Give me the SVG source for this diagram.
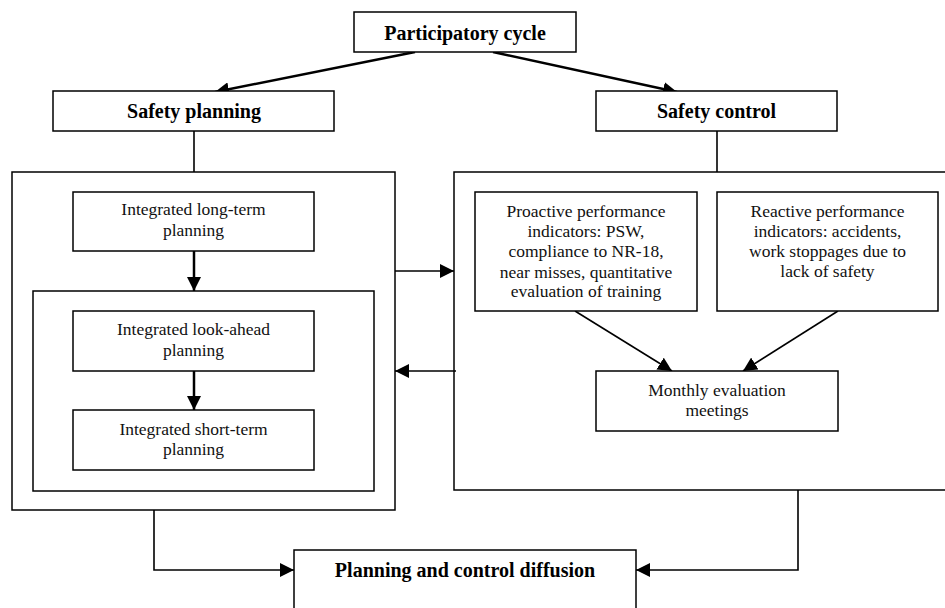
<svg xmlns="http://www.w3.org/2000/svg" width="945" height="608" viewBox="0 0 945 608">
<style>
rect.box{fill:#fff;stroke:#000;stroke-width:1.5}
.t{font-family:"Liberation Serif","Times New Roman",serif;font-size:17.5px;text-anchor:middle;fill:#111}
.b{font-family:"Liberation Serif","Times New Roman",serif;font-size:20px;font-weight:bold;text-anchor:middle;fill:#000}
.c{fill:none;stroke:#000;stroke-width:1.6}
.cb{fill:none;stroke:#000;stroke-width:2.5}
</style>
<defs>
<marker id="ah" markerUnits="userSpaceOnUse" markerWidth="16" markerHeight="14" refX="14" refY="7" orient="auto">
<path d="M0,0 L14,7 L0,14 Z" fill="#000"/>
</marker>
</defs>
<rect width="945" height="608" fill="#fff"/>
<g id="connectors">
<line class="cb" x1="415" y1="52" x2="215" y2="92" marker-end="url(#ah)"/>
<line class="cb" x1="493" y1="52" x2="677" y2="92" marker-end="url(#ah)"/>
<line class="c" x1="194" y1="131" x2="194" y2="172"/>
<line class="c" x1="717" y1="131" x2="717" y2="172"/>
<line class="cb" x1="194" y1="251" x2="194" y2="291" marker-end="url(#ah)"/>
<line class="cb" x1="194" y1="371" x2="194" y2="410" marker-end="url(#ah)"/>
<line class="c" x1="395" y1="271" x2="454" y2="271" marker-end="url(#ah)"/>
<line class="c" x1="456" y1="371" x2="395" y2="371" marker-end="url(#ah)"/>
<line class="c" x1="575" y1="311" x2="672" y2="371" marker-end="url(#ah)"/>
<line class="c" x1="838" y1="311" x2="743" y2="371" marker-end="url(#ah)"/>
<polyline class="c" points="154,510 154,570 294,570" marker-end="url(#ah)"/>
<polyline class="c" points="798,490 798,570 636,570" marker-end="url(#ah)"/>
</g>
<g id="participatory">
<rect class="box" x="354" y="12" width="222" height="40"/>
<text class="b" x="465" y="40">Participatory cycle</text>
</g>
<g id="safety-planning">
<rect class="box" x="53" y="91" width="281" height="40"/>
<text class="b" x="194" y="118">Safety planning</text>
</g>
<g id="safety-control">
<rect class="box" x="596" y="91" width="241" height="40"/>
<text class="b" x="716.5" y="118">Safety control</text>
</g>
<g id="planning-container">
<rect class="box" x="12" y="172" width="383" height="338" style="fill:none"/>
</g>
<g id="long-term">
<rect class="box" x="73" y="192" width="241" height="59"/>
<text class="t" x="193.5" y="215">Integrated long-term</text>
<text class="t" x="193.5" y="236">planning</text>
</g>
<g id="inner-container">
<rect class="box" x="33" y="291" width="341" height="200" style="fill:none"/>
</g>
<g id="look-ahead">
<rect class="box" x="73" y="311" width="241" height="60"/>
<text class="t" x="193.5" y="335">Integrated look-ahead</text>
<text class="t" x="193.5" y="356">planning</text>
</g>
<g id="short-term">
<rect class="box" x="73" y="410" width="241" height="60"/>
<text class="t" x="193.5" y="435">Integrated short-term</text>
<text class="t" x="193.5" y="455">planning</text>
</g>
<g id="control-container">
<rect class="box" x="454" y="172" width="500" height="318" style="fill:none"/>
</g>
<g id="proactive">
<rect class="box" x="475" y="192" width="222" height="119"/>
<text class="t" x="586" y="217">Proactive performance</text>
<text class="t" x="586" y="237">indicators: PSW,</text>
<text class="t" x="586" y="257">compliance to NR-18,</text>
<text class="t" x="586" y="278">near misses, quantitative</text>
<text class="t" x="586" y="297">evaluation of training</text>
</g>
<g id="reactive">
<rect class="box" x="717" y="192" width="221" height="119"/>
<text class="t" x="827.5" y="217">Reactive performance</text>
<text class="t" x="827.5" y="237">indicators: accidents,</text>
<text class="t" x="827.5" y="257">work stoppages due to</text>
<text class="t" x="827.5" y="277">lack of safety</text>
</g>
<g id="monthly">
<rect class="box" x="596" y="371" width="242" height="60"/>
<text class="t" x="717" y="396">Monthly evaluation</text>
<text class="t" x="717" y="416">meetings</text>
</g>
<g id="diffusion">
<rect class="box" x="294" y="550" width="342" height="70"/>
<text class="b" x="465" y="577">Planning and control diffusion</text>
</g>
</svg>
